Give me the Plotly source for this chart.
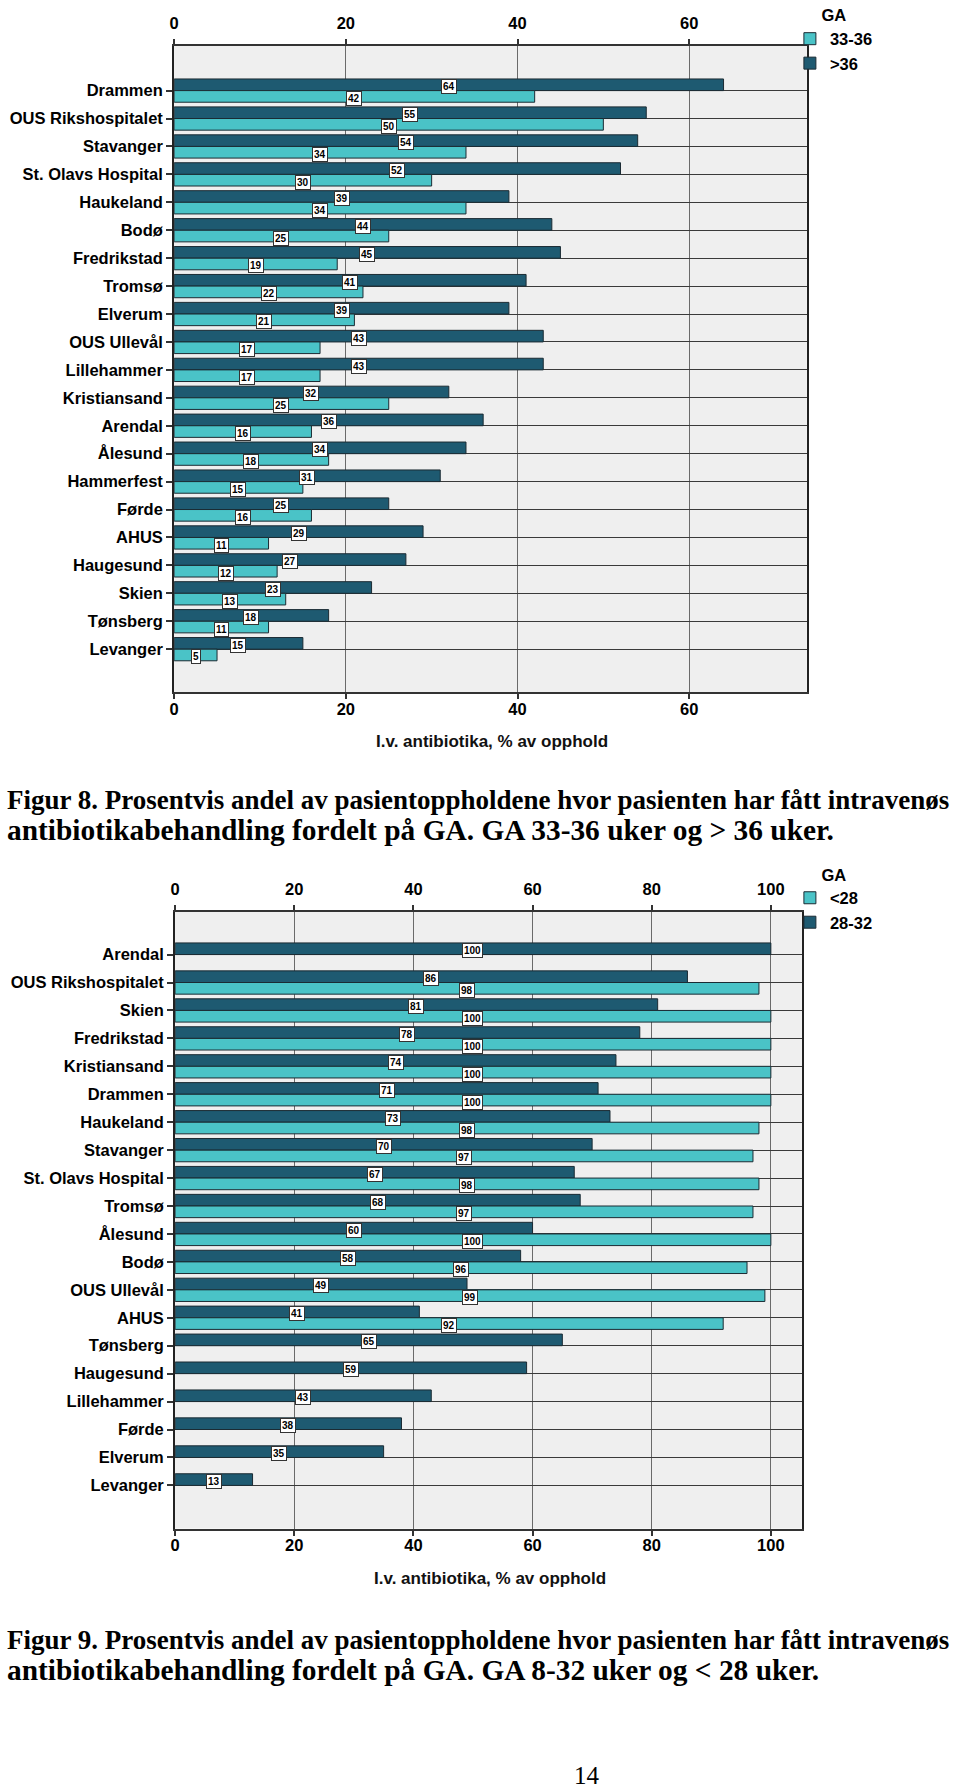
import plotly.graph_objects as go

# ---------------- data ----------------
hospitals_fig8 = ["Drammen", "OUS Rikshospitalet", "Stavanger", "St. Olavs Hospital",
                  "Haukeland", "Bodø", "Fredrikstad", "Tromsø", "Elverum", "OUS Ullevål",
                  "Lillehammer", "Kristiansand", "Arendal", "Ålesund", "Hammerfest", "Førde",
                  "AHUS", "Haugesund", "Skien", "Tønsberg", "Levanger"]
ga_over36 = [64, 55, 54, 52, 39, 44, 45, 41, 39, 43, 43, 32, 36, 34, 31, 25, 29, 27, 23, 18, 15]
ga_33_36 = [42, 50, 34, 30, 34, 25, 19, 22, 21, 17, 17, 25, 16, 18, 15, 16, 11, 12, 13, 11, 5]

hospitals_fig9 = ["Arendal", "OUS Rikshospitalet", "Skien", "Fredrikstad", "Kristiansand",
                  "Drammen", "Haukeland", "Stavanger", "St. Olavs Hospital", "Tromsø",
                  "Ålesund", "Bodø", "OUS Ullevål", "AHUS", "Tønsberg", "Haugesund",
                  "Lillehammer", "Førde", "Elverum", "Levanger"]
ga_28_32 = [100, 86, 81, 78, 74, 71, 73, 70, 67, 68, 60, 58, 49, 41, 65, 59, 43, 38, 35, 13]
ga_under28 = [None, 98, 100, 100, 100, 100, 98, 97, 98, 97, 100, 96, 99, 92,
              None, None, None, None, None, None]

ticks_fig8 = [0, 20, 40, 60]
ticks_fig9 = [0, 20, 40, 60, 80, 100]

axis_title = "I.v. antibiotika, % av opphold"
caption_fig8 = ["Figur 8. Prosentvis andel av pasientoppholdene hvor pasienten har fått intravenøs",
                "antibiotikabehandling fordelt på GA. GA 33-36 uker og > 36 uker."]
caption_fig9 = ["Figur 9. Prosentvis andel av pasientoppholdene hvor pasienten har fått intravenøs",
                "antibiotikabehandling fordelt på GA. GA 8-32 uker og < 28 uker."]
page_number = "14"

# ---------------- style ----------------
W, H = 960, 1788
LIGHT = "#4AC3C7"
DARK = "#1E5A71"
EDGE = "#1b2b33"
BG = "#EFEFEF"
SANS = "Liberation Sans, Arial, sans-serif"
SERIF = "Liberation Serif, Times New Roman, serif"
BARGAP = 0.167


def fx(p):
    return p / W


def fy(p):
    return 1 - p / H


fig = go.Figure()

# Figure 8 traces (dark first -> drawn on upper half of each category)
fig.add_trace(go.Bar(y=hospitals_fig8, x=ga_over36, orientation="h", name=">36",
                     marker=dict(color=DARK, line=dict(color=EDGE, width=1)),
                     xaxis="x", yaxis="y", legend="legend", legendrank=2,
                     hoverinfo="x+y"))
fig.add_trace(go.Bar(y=hospitals_fig8, x=ga_33_36, orientation="h", name="33-36",
                     marker=dict(color=LIGHT, line=dict(color=EDGE, width=1)),
                     xaxis="x", yaxis="y", legend="legend", legendrank=1,
                     hoverinfo="x+y"))

# Figure 9 traces
fig.add_trace(go.Bar(y=hospitals_fig9, x=ga_28_32, orientation="h", name="28-32",
                     marker=dict(color=DARK, line=dict(color=EDGE, width=1)),
                     xaxis="x2", yaxis="y2", legend="legend2", legendrank=2,
                     hoverinfo="x+y"))
fig.add_trace(go.Bar(y=hospitals_fig9, x=ga_under28, orientation="h", name="<28",
                     marker=dict(color=LIGHT, line=dict(color=EDGE, width=1)),
                     xaxis="x2", yaxis="y2", legend="legend2", legendrank=1,
                     hoverinfo="x+y"))

# invisible helpers so the top (mirrored) tick-label axes get drawn
fig.add_trace(go.Scatter(x=ticks_fig8, y=[hospitals_fig8[0]] * len(ticks_fig8),
                         xaxis="x3", yaxis="y", mode="markers",
                         marker=dict(opacity=0), showlegend=False, hoverinfo="skip"))
fig.add_trace(go.Scatter(x=ticks_fig9, y=[hospitals_fig9[0]] * len(ticks_fig9),
                         xaxis="x4", yaxis="y2", mode="markers",
                         marker=dict(opacity=0), showlegend=False, hoverinfo="skip"))

# value labels (white boxes at bar midpoints)
bar_px = 28 * (1 - BARGAP) / 2
annotations = []


def add_labels(cats, vals, xref, yref, upper):
    shift = (bar_px / 2 - 2) if upper else (-bar_px / 2 - 2)
    for c, v in zip(cats, vals):
        if v is None:
            continue
        annotations.append(dict(
            x=v / 2, y=c, xref=xref, yref=yref, text=f"<b>{v}</b>", showarrow=False,
            yshift=shift, font=dict(family=SANS, size=10, color="#000"),
            bgcolor="white", bordercolor="#333", borderwidth=1, borderpad=1))


add_labels(hospitals_fig8, ga_over36, "x", "y", True)
add_labels(hospitals_fig8, ga_33_36, "x", "y", False)
add_labels(hospitals_fig9, ga_28_32, "x2", "y2", True)
add_labels(hospitals_fig9, ga_under28, "x2", "y2", False)

# axis titles
annotations.append(dict(x=fx(490), y=fy(739.5), xref="paper", yref="paper",
                        text=f"<b>{axis_title}</b>", showarrow=False,
                        xanchor="center", yanchor="middle",
                        font=dict(family=SANS, size=17, color="#111")))
annotations.append(dict(x=fx(488), y=fy(1578), xref="paper", yref="paper",
                        text=f"<b>{axis_title}</b>", showarrow=False,
                        xanchor="center", yanchor="middle",
                        font=dict(family=SANS, size=17, color="#111")))

# captions
for lines, ys in ((caption_fig8, (798, 828)), (caption_fig9, (1640, 1670))):
    for line, yy, size in zip(lines, ys, (27.0, 29.4)):
        annotations.append(dict(x=0, y=fy(yy), xref="paper", yref="paper",
                                text=f"<b>{line}</b>", showarrow=False,
                                xanchor="left", yanchor="middle",
                                font=dict(family=SERIF, size=size, color="#000")))

annotations.append(dict(x=fx(585), y=fy(1775), xref="paper", yref="paper", text=page_number,
                        showarrow=False, xanchor="center", yanchor="middle",
                        font=dict(family=SERIF, size=25, color="#000")))

tickfont = dict(family=SANS, size=16.5, color="#000", weight="bold")

common_x = dict(showgrid=True, gridcolor="#6a6a6a", gridwidth=1, zeroline=False,
                showline=True, linecolor="#333", linewidth=2, mirror=True,
                ticks="outside", ticklen=5, tickcolor="#333", tickwidth=1.5,
                ticklabelstandoff=-4, tickfont=tickfont, fixedrange=True)
common_top = dict(side="top", showgrid=False, zeroline=False, showline=False,
                  ticks="outside", ticklen=6, tickcolor="#333", tickwidth=1.5,
                  ticklabelstandoff=3, tickfont=tickfont, fixedrange=True)
common_y = dict(type="category", showgrid=True, gridcolor="#3a3a3a", gridwidth=1,
                zeroline=False, showline=True, linecolor="#222", linewidth=2, mirror=True,
                ticks="outside", ticklen=6, tickcolor="#333", tickwidth=1.5,
                tickfont=tickfont, fixedrange=True)

n8 = len(hospitals_fig8)
n9 = len(hospitals_fig9)

legend_common = dict(xanchor="left", yanchor="top",
                     title=dict(text="GA", side="top center",
                                font=dict(family=SANS, size=16.5, color="#000", weight="bold")),
                     font=dict(family=SANS, size=16.5, color="#000", weight="bold"),
                     bgcolor="rgba(0,0,0,0)", borderwidth=0, tracegroupgap=0)

fig.update_layout(
    width=W, height=H,
    margin=dict(l=0, r=0, t=0, b=0),
    paper_bgcolor="white",
    plot_bgcolor=BG,
    barmode="group", bargap=BARGAP, bargroupgap=0,
    showlegend=True,
    xaxis=dict(domain=[fx(170), fx(806)], anchor="y", range=[0, 73.7],
               tickvals=ticks_fig8, **common_x),
    xaxis3=dict(overlaying="x", anchor="y", range=[0, 73.7], tickvals=ticks_fig8,
                **common_top),
    yaxis=dict(domain=[fy(690), fy(42)], anchor="x", categoryorder="array",
               categoryarray=hospitals_fig8, range=[n8 - 1 + 1.55, -1.6], **common_y),
    xaxis2=dict(domain=[fx(171), fx(801)], anchor="y2", range=[0, 105.2],
                tickvals=ticks_fig9, **common_x),
    xaxis4=dict(overlaying="x2", anchor="y2", range=[0, 105.2], tickvals=ticks_fig9,
                **common_top),
    yaxis2=dict(domain=[fy(1528), fy(910)], anchor="x2", categoryorder="array",
                categoryarray=hospitals_fig9, range=[n9 - 1 + 1.546, -1.525], **common_y),
    legend=dict(x=fx(789), y=fy(-4), **legend_common),
    legend2=dict(x=fx(789), y=fy(857), **legend_common),
    annotations=annotations,
)

fig.write_html("out.html", config={"displayModeBar": False},
               post_script="document.body.style.margin='0';document.body.style.padding='0';")
